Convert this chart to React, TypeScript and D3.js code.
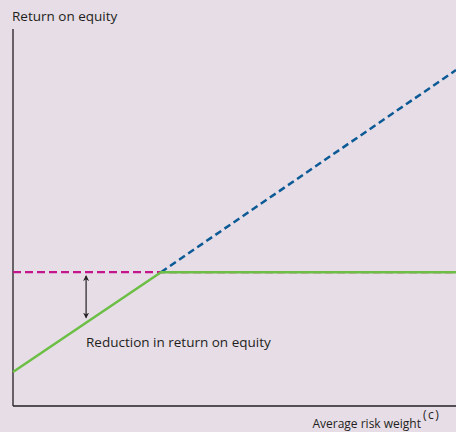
import React from "react";
import * as d3 from "d3";

const W = 456;
const H = 432;

// Schematic data (arbitrary units)
const riskWeightGreen = [0, 33.4, 100];
const roeGreen = [9, 35.5, 35.5];
const riskWeightBlue = [33.4, 100];
const roeBlue = [35.5, 89.1];
const riskWeightMagenta = [0, 100];
const roeMagenta = [35.5, 35.5];
const arrowX = 16.5;
const arrowY = [34.4, 23.5];

const yTitle = "Return on equity";
const xTitle = "Average risk weight";
const xNote = "(c)";
const annotation = "Reduction in return on equity";

export default function App() {
  const x = d3.scaleLinear().domain([0, 100]).range([13, 456]);
  const y = d3.scaleLinear().domain([0, 100]).range([406, 29]);
  const line = d3
    .line<[number, number]>()
    .x((d) => x(d[0]))
    .y((d) => y(d[1]));
  const zip = (a: number[], b: number[]) => a.map((v, i) => [v, b[i]] as [number, number]);
  const font = "'Open Sans', 'Noto Sans', sans-serif";
  const ax = x(arrowX);
  const ay1 = y(arrowY[0]);
  const ay2 = y(arrowY[1]);
  return (
    <svg
      width={W}
      height={H}
      style={{ position: "absolute", left: 0, top: 0, display: "block" }}
    >
      <rect x={0} y={0} width={W} height={H} fill="#e7dde7" />
      <text x={12} y={21} fontFamily={font} fontSize={13.5} fill="#231f20">
        {yTitle}
      </text>
      <line x1={x(0)} x2={x(0)} y1={y(100)} y2={y(0)} stroke="#231f20" strokeWidth={1.3} />
      <line x1={x(0)} x2={x(100)} y1={y(0)} y2={y(0)} stroke="#231f20" strokeWidth={1.3} />
      <text x={421} y={428} textAnchor="end" fontFamily={font} fontSize={12} fill="#231f20">
        {xTitle}
      </text>
      <text x={423} y={419} fontFamily={font} fontSize={12} letterSpacing={1.5} fill="#231f20">
        {xNote}
      </text>
      <path
        d={line(zip(riskWeightMagenta, roeMagenta)) || ""}
        fill="none"
        stroke="#c4168c"
        strokeWidth={2.3}
        strokeDasharray="8 4"
      />
      <path
        d={line(zip(riskWeightBlue, roeBlue)) || ""}
        fill="none"
        stroke="#0b5a95"
        strokeWidth={2.5}
        strokeDasharray="7 4"
      />
      <path
        d={line(zip(riskWeightGreen, roeGreen)) || ""}
        fill="none"
        stroke="#6abf44"
        strokeWidth={2.5}
        strokeLinejoin="round"
      />
      <defs>
        <marker
          id="ah"
          viewBox="0 0 10 10"
          refX={8}
          refY={5}
          markerWidth={6}
          markerHeight={7}
          orient="auto-start-reverse"
          markerUnits="userSpaceOnUse"
        >
          <path d="M0,0 L10,5 L0,10 L3,5 Z" fill="#231f20" />
        </marker>
      </defs>
      <line
        x1={ax}
        x2={ax}
        y1={ay1}
        y2={ay2}
        stroke="#231f20"
        strokeWidth={1.2}
        markerStart="url(#ah)"
        markerEnd="url(#ah)"
      />
      <text x={86} y={347} fontFamily={font} fontSize={13.5} fill="#231f20">
        {annotation}
      </text>
    </svg>
  );
}
